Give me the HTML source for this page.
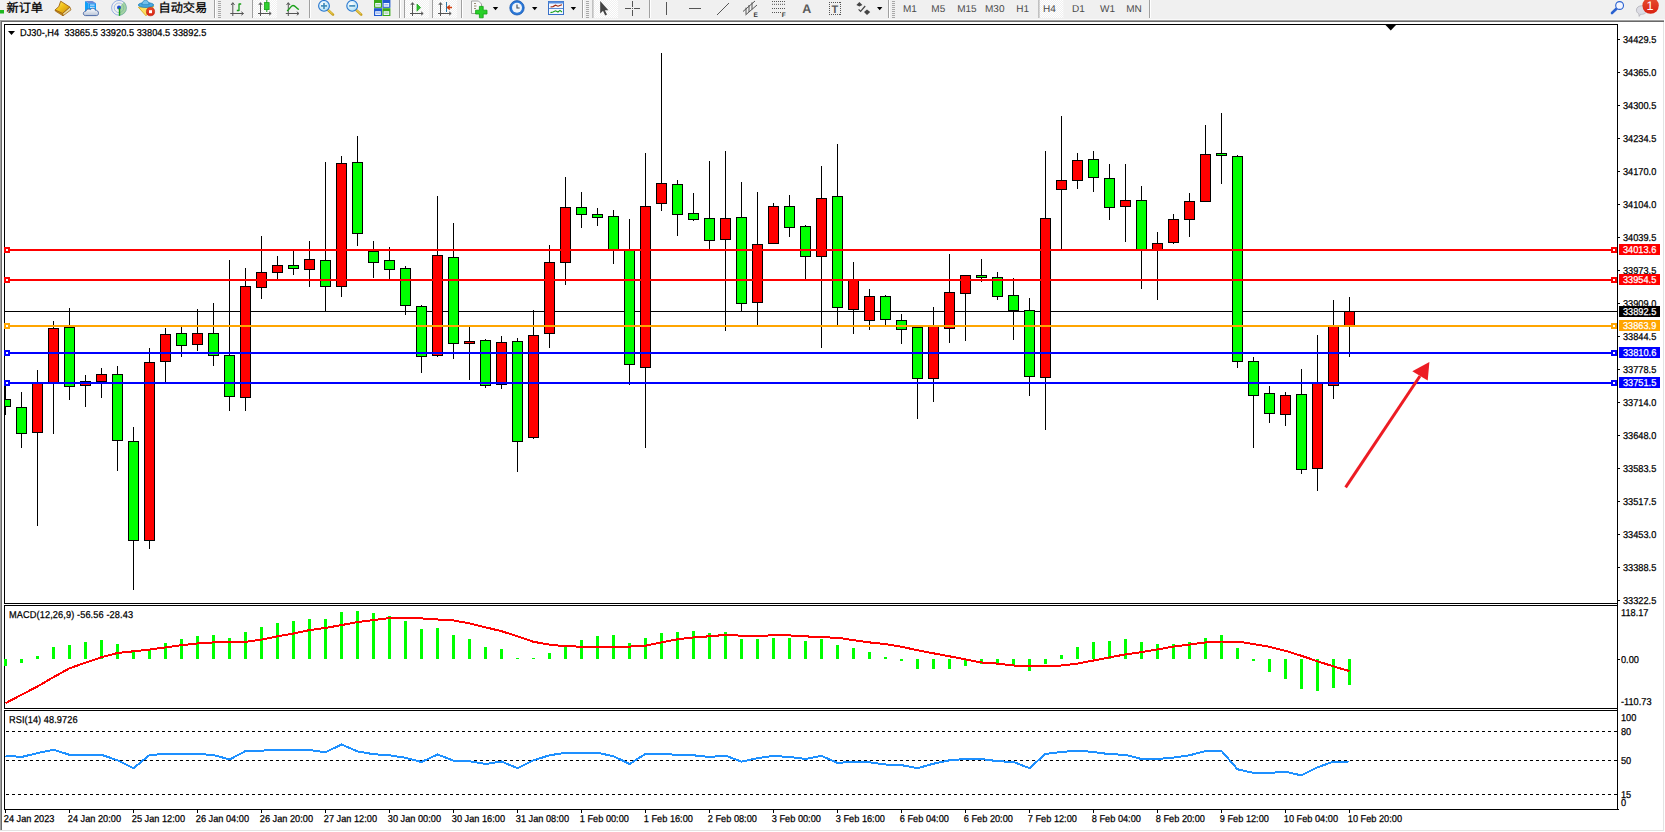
<!DOCTYPE html><html><head><meta charset="utf-8"><title>DJ30-,H4</title>
<style>html,body{margin:0;padding:0;background:#fff;overflow:hidden}body{width:1665px;height:832px;position:relative;font-family:"Liberation Sans","Noto Sans CJK SC",sans-serif}svg{position:absolute;left:0;top:0;display:block}svg text{font-family:"Liberation Sans","Noto Sans CJK SC",sans-serif;text-rendering:geometricPrecision}</style></head><body>
<svg width="1665" height="832" viewBox="0 0 1665 832">
<defs><clipPath id="cm"><rect x="5" y="25" width="1612" height="578"/></clipPath>
<linearGradient id="tbb" x1="0" y1="0" x2="0" y2="1"><stop offset="0" stop-color="#e3e3e3"/><stop offset="0.5" stop-color="#a0a0a0"/><stop offset="1" stop-color="#696969"/></linearGradient>
</defs>
<rect width="1665" height="832" fill="#fff"/>
<g id="toolbar">
<rect x="0" y="0" width="1665" height="19" fill="#f0f0f0"/><rect x="0" y="19" width="1665" height="1" fill="#fafafa"/><rect x="0" y="20" width="1664" height="1" fill="#a0a0a0"/><rect x="1" y="21" width="1663" height="1" fill="#696969"/>
<rect x="0" y="10" width="4" height="3.5" fill="#1fb81f"/>
<text x="6.5" y="11.6" font-size="12.2" fill="#000" stroke="#000" stroke-width="0.3">新订单</text>
<defs><linearGradient id="gold" x1="0" y1="0" x2="1" y2="1"><stop offset="0" stop-color="#fff27a"/><stop offset="0.45" stop-color="#f2c21a"/><stop offset="1" stop-color="#c88a10"/></linearGradient><linearGradient id="cloud" x1="0" y1="0" x2="0" y2="1"><stop offset="0" stop-color="#ffffff"/><stop offset="1" stop-color="#b8c4d8"/></linearGradient><linearGradient id="blu" x1="0" y1="0" x2="0" y2="1"><stop offset="0" stop-color="#1e90f0"/><stop offset="1" stop-color="#00a8ff"/></linearGradient><radialGradient id="lens" cx="0.4" cy="0.35" r="0.7"><stop offset="0" stop-color="#ffffff"/><stop offset="1" stop-color="#a8dcf4"/></radialGradient><linearGradient id="red" x1="0" y1="0" x2="0" y2="1"><stop offset="0" stop-color="#e85030"/><stop offset="1" stop-color="#d82010"/></linearGradient><pattern id="hatch" width="2" height="2" patternUnits="userSpaceOnUse"><rect width="2" height="2" fill="#f0f0f0"/><rect width="1" height="1" fill="#fff"/><rect x="1" y="1" width="1" height="1" fill="#fff"/></pattern></defs>
<path d="M69.8 7L71 9.8L63 15.8L62.6 13.4Z" fill="#e8dca4" stroke="#a06410" stroke-width="0.8" stroke-linejoin="round"/><path d="M55.1 9.9L62.6 13.4L63 15.8L55.3 11Z" fill="#c8901a" stroke="#a06410" stroke-width="0.8" stroke-linejoin="round"/><path d="M60.7 1.2L69.8 7L62.6 13.4L55.1 9.9L58.8 6.6Z" fill="url(#gold)" stroke="#a06410" stroke-width="0.9" stroke-linejoin="round"/>
<path d="M85 1L88.6 3.2V11H85Z" fill="#10a0f8"/><path d="M88.6 3.2H96V11H88.6Z" fill="url(#blu)"/><path d="M85 1H92.5L96 3.2H88.6Z" fill="#6a8ad8"/><rect x="90" y="4.6" width="4.6" height="1" fill="#e8f4ff"/><rect x="90" y="6.8" width="4.6" height="1" fill="#e8f4ff"/>
<path d="M85.5 15.6C82.6 15.6 82.6 11.4 85.8 11.2C86.3 8.8 89.2 8.4 90.4 9.6C91.6 7.6 95 8 95.4 10.2C99 9.8 99.6 15.6 96.4 15.6Z" fill="url(#cloud)" stroke="#3f5f9f" stroke-width="0.9"/>
<g fill="none" stroke="#6f93dc" stroke-width="1"><circle cx="119" cy="7.8" r="7.4" opacity="0.7"/><circle cx="119" cy="7.8" r="4.8" opacity="0.55"/></g>
<path d="M119 7.8V15.6A7.8 7.8 0 0 0 126.8 7.8A7.8 7.8 0 0 0 124 1.8Z" fill="#6fbf6f" opacity="0.6"/><circle cx="119" cy="7.6" r="2" fill="#2050d0"/><rect x="118.8" y="7.8" width="1.4" height="8" fill="#18a018"/>
<path d="M138.4 7.2L153.7 6.4L146 15.8Z" fill="#fbe060" stroke="#d8a010" stroke-width="0.8" stroke-linejoin="round"/>
<ellipse cx="146" cy="5" rx="7.7" ry="2.4" fill="#4aa8e0" stroke="#1f7fb8" stroke-width="0.8"/><path d="M141.9 4.7C141.9 -1.2 149.1 -1.2 149.1 4.7Z" fill="#74c0ec" stroke="#1f7fb8" stroke-width="0.7"/>
<circle cx="150.5" cy="11.7" r="4.1" fill="url(#red)" stroke="#b81808" stroke-width="0.6"/><rect x="149" y="10.2" width="3" height="3" fill="#fff"/>
<text x="158.5" y="11.6" font-size="12.2" fill="#000" stroke="#000" stroke-width="0.3">自动交易</text>
<rect x="214" y="0" width="1" height="18" fill="#a0a0a0"/><rect x="215" y="0" width="1" height="18" fill="#fff"/>
<rect x="218" y="1" width="3" height="1" fill="#a8a8a8"/>
<rect x="218" y="3" width="3" height="1" fill="#a8a8a8"/>
<rect x="218" y="5" width="3" height="1" fill="#a8a8a8"/>
<rect x="218" y="7" width="3" height="1" fill="#a8a8a8"/>
<rect x="218" y="9" width="3" height="1" fill="#a8a8a8"/>
<rect x="218" y="11" width="3" height="1" fill="#a8a8a8"/>
<rect x="218" y="13" width="3" height="1" fill="#a8a8a8"/>
<rect x="218" y="15" width="3" height="1" fill="#a8a8a8"/>
<rect x="218" y="17" width="3" height="1" fill="#a8a8a8"/>
<g stroke="#555" stroke-width="1" fill="none"><path d="M232.8 3V16M230.3 13.5H243.3"/><path d="M231.10000000000002 5L232.8 2.6L234.5 5M241.3 11.8L243.5 13.5L241.3 15.2"/></g>
<path d="M239 3.5V11M239 4H241.2M239 10.5H236.8" stroke="#18a018" stroke-width="1.3" fill="none"/>
<rect x="252" y="0" width="25" height="18" fill="url(#hatch)"/><rect x="252" y="0" width="1" height="18" fill="#a0a0a0"/>
<g stroke="#555" stroke-width="1" fill="none"><path d="M260.5 3V16M258 13.5H271"/><path d="M258.8 5L260.5 2.6L262.2 5M269 11.8L271.2 13.5L269 15.2"/></g>
<rect x="266.3" y="0" width="1" height="12" fill="#18a018"/><rect x="264.5" y="2.6" width="4.6" height="7" fill="#30d030" stroke="#18a018" stroke-width="0.8"/>
<g stroke="#555" stroke-width="1" fill="none"><path d="M288.3 3V16M285.8 13.5H298.8"/><path d="M286.6 5L288.3 2.6L290.0 5M296.8 11.8L299.0 13.5L296.8 15.2"/></g>
<path d="M287 11C290 9.5 290.5 5.5 293 5.5C295.5 5.5 296.5 8.5 299 9.5" stroke="#18a018" stroke-width="1.3" fill="none"/>
<rect x="309" y="0" width="1" height="18" fill="#a0a0a0"/><rect x="310" y="0" width="1" height="18" fill="#fff"/>
<path d="M327.6 9.6L333 14.6" stroke="#c8a020" stroke-width="2.6" stroke-linecap="round"/><path d="M327.6 9.4L332.6 14" stroke="#f4dc60" stroke-width="1"/>
<circle cx="324" cy="5.9" r="5.4" fill="url(#lens)" stroke="#2a78d0" stroke-width="1.1"/>
<path d="M321 5.9H327" stroke="#3a88b8" stroke-width="1.6"/>
<path d="M324 2.9V8.9" stroke="#3a88b8" stroke-width="1.6"/>
<path d="M355.8 9.6L361.2 14.6" stroke="#c8a020" stroke-width="2.6" stroke-linecap="round"/><path d="M355.8 9.4L360.8 14" stroke="#f4dc60" stroke-width="1"/>
<circle cx="352.2" cy="5.9" r="5.4" fill="url(#lens)" stroke="#2a78d0" stroke-width="1.1"/>
<path d="M349.2 5.9H355.2" stroke="#3a88b8" stroke-width="1.6"/>
<rect x="374" y="0" width="8" height="7.8" fill="#38a818"/><rect x="375.2" y="3" width="5.6" height="3.8" fill="#eef4ff"/><rect x="376" y="4.4" width="4" height="0.9" fill="#38a818" opacity="0.6"/>
<rect x="382.4" y="0" width="8" height="7.8" fill="#2058d0"/><rect x="383.59999999999997" y="3" width="5.6" height="3.8" fill="#eef4ff"/><rect x="384.4" y="4.4" width="4" height="0.9" fill="#2058d0" opacity="0.6"/>
<rect x="374" y="8.2" width="8" height="7.8" fill="#2058d0"/><rect x="375.2" y="11.2" width="5.6" height="3.8" fill="#eef4ff"/><rect x="376" y="12.6" width="4" height="0.9" fill="#2058d0" opacity="0.6"/>
<rect x="382.4" y="8.2" width="8" height="7.8" fill="#38a818"/><rect x="383.59999999999997" y="11.2" width="5.6" height="3.8" fill="#eef4ff"/><rect x="384.4" y="12.6" width="4" height="0.9" fill="#38a818" opacity="0.6"/>
<rect x="399" y="0" width="1" height="18" fill="#a0a0a0"/><rect x="400" y="0" width="1" height="18" fill="#fff"/>
<rect x="404" y="0" width="25" height="18" fill="url(#hatch)"/><rect x="404" y="0" width="1" height="18" fill="#a0a0a0"/>
<g stroke="#555" stroke-width="1" fill="none"><path d="M412.5 3V16M410 13.5H423"/><path d="M410.8 5L412.5 2.6L414.2 5M421 11.8L423.2 13.5L421 15.2"/></g>
<path d="M417 4L420.6 7.6L417 11.2Z" fill="#30c030" stroke="#18a018" stroke-width="0.7"/>
<rect x="432" y="0" width="25" height="18" fill="url(#hatch)"/><rect x="432" y="0" width="1" height="18" fill="#a0a0a0"/>
<g stroke="#555" stroke-width="1" fill="none"><path d="M440.5 3V16M438 13.5H451"/><path d="M438.8 5L440.5 2.6L442.2 5M449 11.8L451.2 13.5L449 15.2"/></g>
<rect x="446" y="2" width="1" height="10" fill="#2878a8"/><path d="M452 7.5H448M449.8 5.4L447.4 7.5L449.8 9.6" stroke="#d04010" stroke-width="1.3" fill="none"/>
<rect x="461" y="0" width="1" height="18" fill="#a0a0a0"/><rect x="462" y="0" width="1" height="18" fill="#fff"/>
<path d="M471.5 1H478.5L481.5 4V13.5H471.5Z" fill="#f8f8f8" stroke="#9a9a9a" stroke-width="0.9"/><path d="M474 3.5H476M474 6H476.5M474 8.5H476" stroke="#807050" stroke-width="0.8"/>
<path d="M479.4 6.4H483.2V10.2H487V14H483.2V17.8H479.4V14H475.6V10.2H479.4Z" fill="#28d028" stroke="#10a010" stroke-width="0.8"/>
<path d="M492.8 7H498.2L495.5 10.2Z" fill="#000"/>
<circle cx="517" cy="7.8" r="7.2" fill="#2a78d8" stroke="#1858b0" stroke-width="0.8"/><circle cx="517" cy="7.8" r="5" fill="#eef4fa"/><path d="M517 4.4V8H519.6" stroke="#404850" stroke-width="1.1" fill="none"/>
<path d="M532 7H537.4L534.7 10.2Z" fill="#000"/>
<rect x="548.5" y="1.5" width="15" height="13" fill="#f4f8ff" stroke="#3870c8" stroke-width="1"/><rect x="548.5" y="1.5" width="15" height="2" fill="#5890e0"/><path d="M549 8.5H563" stroke="#3870c8" stroke-width="0.8"/><path d="M550.5 7L553 6.6L555.5 5.2L558 6.2L560.5 5.2L562 4.8" stroke="#a02810" stroke-width="1.1" fill="none"/><path d="M550.5 12.6L553 12L555.5 10.8L558 12L560 10.4L562 12" stroke="#18a018" stroke-width="1.1" fill="none"/>
<path d="M570.7 7H576.1L573.4000000000001 10.2Z" fill="#000"/>
<rect x="582" y="0" width="1" height="18" fill="#a0a0a0"/><rect x="583" y="0" width="1" height="18" fill="#fff"/>
<rect x="586" y="1" width="3" height="1" fill="#a8a8a8"/>
<rect x="586" y="3" width="3" height="1" fill="#a8a8a8"/>
<rect x="586" y="5" width="3" height="1" fill="#a8a8a8"/>
<rect x="586" y="7" width="3" height="1" fill="#a8a8a8"/>
<rect x="586" y="9" width="3" height="1" fill="#a8a8a8"/>
<rect x="586" y="11" width="3" height="1" fill="#a8a8a8"/>
<rect x="586" y="13" width="3" height="1" fill="#a8a8a8"/>
<rect x="586" y="15" width="3" height="1" fill="#a8a8a8"/>
<rect x="586" y="17" width="3" height="1" fill="#a8a8a8"/>
<rect x="592.4" y="0" width="25.6" height="18" fill="url(#hatch)"/><rect x="592.4" y="0" width="1" height="18" fill="#a0a0a0"/>
<path d="M600.2 1V13.6L603 10.8L605.2 15.4L607 14.6L604.8 10.2H608.4Z" fill="#444"/>
<path d="M632.5 1V7M632.5 10V16M625 8.5H631M634 8.5H640" stroke="#555" stroke-width="1"/><rect x="632" y="8" width="1" height="1" fill="#555"/>
<rect x="649" y="0" width="1" height="18" fill="#a0a0a0"/><rect x="650" y="0" width="1" height="18" fill="#fff"/>
<path d="M666.5 2V15" stroke="#555" stroke-width="1"/><path d="M689 8.5H701" stroke="#555" stroke-width="1"/><path d="M717 15L729 3" stroke="#555" stroke-width="1"/>
<path d="M743 11.5L755 1M745.5 15L757 5M746 7.6V14.4M749 5V12M752 2.4V9.4" stroke="#555" stroke-width="1" fill="none"/><text x="753.4" y="17" font-size="6.5" font-weight="bold" fill="#333">E</text>
<path d="M772 1.5H785" stroke="#555" stroke-width="1" stroke-dasharray="1 1"/>
<path d="M772 4.3H785" stroke="#555" stroke-width="1" stroke-dasharray="1 1"/>
<path d="M772 8.5H785" stroke="#555" stroke-width="1" stroke-dasharray="1 1"/>
<path d="M772 12.5H781" stroke="#555" stroke-width="1" stroke-dasharray="1 1"/>
<text x="781.8" y="17" font-size="6.5" font-weight="bold" fill="#333">F</text>
<text x="802.2" y="13" font-size="12.5" font-weight="bold" fill="#5a5a5a">A</text>
<g stroke="#555" stroke-width="1" stroke-dasharray="1 1" shape-rendering="crispEdges"><path d="M829 2.5H841M829 14.5H841M829.5 2V15M840.5 2V15"/></g><text x="831.4" y="12.6" font-size="11" font-weight="bold" fill="#5a5a5a">T</text>
<path d="M856.4 5L859.4 2L862.4 5L859.4 6.6Z" fill="#444"/><path d="M864 12L867 9.6L870.2 12L867 15Z" fill="#444"/><path d="M858.6 9.4L860.6 11.4L865.2 6" stroke="#444" stroke-width="1.2" fill="none"/>
<path d="M877 7H882.4L879.7 10.2Z" fill="#000"/>
<rect x="888" y="0" width="1" height="18" fill="#a0a0a0"/><rect x="889" y="0" width="1" height="18" fill="#fff"/>
<rect x="892" y="1" width="3" height="1" fill="#a8a8a8"/>
<rect x="892" y="3" width="3" height="1" fill="#a8a8a8"/>
<rect x="892" y="5" width="3" height="1" fill="#a8a8a8"/>
<rect x="892" y="7" width="3" height="1" fill="#a8a8a8"/>
<rect x="892" y="9" width="3" height="1" fill="#a8a8a8"/>
<rect x="892" y="11" width="3" height="1" fill="#a8a8a8"/>
<rect x="892" y="13" width="3" height="1" fill="#a8a8a8"/>
<rect x="892" y="15" width="3" height="1" fill="#a8a8a8"/>
<rect x="892" y="17" width="3" height="1" fill="#a8a8a8"/>
<g font-size="10" fill="#4a4a4a">
<text x="903" y="12">M1</text>
<text x="931.3" y="12">M5</text>
<text x="957.2" y="12">M15</text>
<text x="985" y="12">M30</text>
<text x="1016.2" y="12">H1</text>
<text x="1072" y="12">D1</text>
<text x="1100" y="12">W1</text>
<text x="1126.2" y="12">MN</text>
</g>
<rect x="1038.4" y="0" width="25" height="18" fill="url(#hatch)"/><rect x="1038.4" y="0" width="1" height="18" fill="#a0a0a0"/>
<text x="1043" y="12" font-size="10" fill="#4a4a4a">H4</text>
<rect x="1149" y="0" width="1" height="18" fill="#a0a0a0"/><rect x="1150" y="0" width="1" height="18" fill="#fff"/>
<path d="M1616.4 8.8L1612 13" stroke="#2a62d0" stroke-width="2.6" stroke-linecap="round"/><circle cx="1619.6" cy="5.5" r="3.9" fill="#f4f6ff" stroke="#2a62d0" stroke-width="1.1"/>
<path d="M1636.4 10.1C1636.4 4.4 1647 4.4 1647 10.1C1647 13.4 1643 14.6 1640.6 14.2L1639.2 16.4L1638.8 13.6C1637.2 13 1636.4 11.6 1636.4 10.1Z" fill="#dcdce4" stroke="#b0b0b8" stroke-width="0.8"/>
<circle cx="1650.6" cy="5.6" r="8.2" fill="url(#red)"/><text x="1646.6" y="10.2" font-size="12.5" fill="#fff">1</text>
</g>
<g shape-rendering="crispEdges">
<rect x="0" y="20" width="1" height="811" fill="#a0a0a0"/><rect x="1" y="21" width="1" height="809" fill="#696969"/>
<rect x="0" y="830" width="1664" height="1" fill="#e3e3e3"/><rect x="1663" y="22" width="1" height="809" fill="#e3e3e3"/>
<rect x="4" y="24" width="1614" height="1" fill="#000"/>
<rect x="4" y="603" width="1614" height="1" fill="#000"/>
<rect x="4" y="605" width="1614" height="1" fill="#000"/>
<rect x="4" y="708" width="1614" height="1" fill="#000"/>
<rect x="4" y="710" width="1614" height="1" fill="#000"/>
<rect x="4" y="809" width="1615" height="1" fill="#000"/>
<rect x="4" y="24" width="1" height="580" fill="#000"/>
<rect x="4" y="605" width="1" height="104" fill="#000"/>
<rect x="4" y="710" width="1" height="100" fill="#000"/>
<rect x="1617" y="24" width="1" height="786" fill="#000"/>
<rect x="5" y="311" width="1612" height="1" fill="#000"/>
</g>
<g shape-rendering="crispEdges" clip-path="url(#cm)">
<rect x="5" y="385" width="1" height="30" fill="#000"/>
<rect x="0" y="399" width="11" height="8" fill="#000"/><rect x="1" y="400" width="9" height="6" fill="#00ff00"/>
<rect x="21" y="392" width="1" height="56" fill="#000"/>
<rect x="16" y="407" width="11" height="27" fill="#000"/><rect x="17" y="408" width="9" height="25" fill="#00ff00"/>
<rect x="37" y="370" width="1" height="156" fill="#000"/>
<rect x="32" y="383" width="11" height="50" fill="#000"/><rect x="33" y="384" width="9" height="48" fill="#ff0000"/>
<rect x="53" y="321" width="1" height="113" fill="#000"/>
<rect x="48" y="328" width="11" height="56" fill="#000"/><rect x="49" y="329" width="9" height="54" fill="#ff0000"/>
<rect x="69" y="308" width="1" height="92" fill="#000"/>
<rect x="64" y="327" width="11" height="60" fill="#000"/><rect x="65" y="328" width="9" height="58" fill="#00ff00"/>
<rect x="85" y="375" width="1" height="32" fill="#000"/>
<rect x="80" y="381" width="11" height="5" fill="#000"/><rect x="81" y="382" width="9" height="3" fill="#ff0000"/>
<rect x="101" y="368" width="1" height="30" fill="#000"/>
<rect x="96" y="374" width="11" height="8" fill="#000"/><rect x="97" y="375" width="9" height="6" fill="#ff0000"/>
<rect x="117" y="366" width="1" height="105" fill="#000"/>
<rect x="112" y="374" width="11" height="67" fill="#000"/><rect x="113" y="375" width="9" height="65" fill="#00ff00"/>
<rect x="133" y="427" width="1" height="163" fill="#000"/>
<rect x="128" y="441" width="11" height="100" fill="#000"/><rect x="129" y="442" width="9" height="98" fill="#00ff00"/>
<rect x="149" y="348" width="1" height="201" fill="#000"/>
<rect x="144" y="362" width="11" height="179" fill="#000"/><rect x="145" y="363" width="9" height="177" fill="#ff0000"/>
<rect x="165" y="328" width="1" height="54" fill="#000"/>
<rect x="160" y="334" width="11" height="28" fill="#000"/><rect x="161" y="335" width="9" height="26" fill="#ff0000"/>
<rect x="181" y="327" width="1" height="30" fill="#000"/>
<rect x="176" y="333" width="11" height="13" fill="#000"/><rect x="177" y="334" width="9" height="11" fill="#00ff00"/>
<rect x="197" y="309" width="1" height="42" fill="#000"/>
<rect x="192" y="333" width="11" height="12" fill="#000"/><rect x="193" y="334" width="9" height="10" fill="#ff0000"/>
<rect x="213" y="303" width="1" height="63" fill="#000"/>
<rect x="208" y="333" width="11" height="23" fill="#000"/><rect x="209" y="334" width="9" height="21" fill="#00ff00"/>
<rect x="229" y="260" width="1" height="151" fill="#000"/>
<rect x="224" y="355" width="11" height="42" fill="#000"/><rect x="225" y="356" width="9" height="40" fill="#00ff00"/>
<rect x="245" y="268" width="1" height="143" fill="#000"/>
<rect x="240" y="286" width="11" height="112" fill="#000"/><rect x="241" y="287" width="9" height="110" fill="#ff0000"/>
<rect x="261" y="236" width="1" height="63" fill="#000"/>
<rect x="256" y="272" width="11" height="16" fill="#000"/><rect x="257" y="273" width="9" height="14" fill="#ff0000"/>
<rect x="277" y="256" width="1" height="23" fill="#000"/>
<rect x="272" y="265" width="11" height="8" fill="#000"/><rect x="273" y="266" width="9" height="6" fill="#ff0000"/>
<rect x="293" y="251" width="1" height="24" fill="#000"/>
<rect x="288" y="265" width="11" height="4" fill="#000"/><rect x="289" y="266" width="9" height="2" fill="#00ff00"/>
<rect x="309" y="241" width="1" height="46" fill="#000"/>
<rect x="304" y="259" width="11" height="11" fill="#000"/><rect x="305" y="260" width="9" height="9" fill="#ff0000"/>
<rect x="325" y="162" width="1" height="149" fill="#000"/>
<rect x="320" y="260" width="11" height="27" fill="#000"/><rect x="321" y="261" width="9" height="25" fill="#00ff00"/>
<rect x="341" y="156" width="1" height="141" fill="#000"/>
<rect x="336" y="163" width="11" height="124" fill="#000"/><rect x="337" y="164" width="9" height="122" fill="#ff0000"/>
<rect x="357" y="136" width="1" height="110" fill="#000"/>
<rect x="352" y="162" width="11" height="72" fill="#000"/><rect x="353" y="163" width="9" height="70" fill="#00ff00"/>
<rect x="373" y="241" width="1" height="37" fill="#000"/>
<rect x="368" y="251" width="11" height="12" fill="#000"/><rect x="369" y="252" width="9" height="10" fill="#00ff00"/>
<rect x="389" y="247" width="1" height="32" fill="#000"/>
<rect x="384" y="260" width="11" height="10" fill="#000"/><rect x="385" y="261" width="9" height="8" fill="#00ff00"/>
<rect x="405" y="266" width="1" height="49" fill="#000"/>
<rect x="400" y="268" width="11" height="38" fill="#000"/><rect x="401" y="269" width="9" height="36" fill="#00ff00"/>
<rect x="421" y="305" width="1" height="68" fill="#000"/>
<rect x="416" y="306" width="11" height="51" fill="#000"/><rect x="417" y="307" width="9" height="49" fill="#00ff00"/>
<rect x="437" y="196" width="1" height="161" fill="#000"/>
<rect x="432" y="255" width="11" height="101" fill="#000"/><rect x="433" y="256" width="9" height="99" fill="#ff0000"/>
<rect x="453" y="223" width="1" height="136" fill="#000"/>
<rect x="448" y="257" width="11" height="87" fill="#000"/><rect x="449" y="258" width="9" height="85" fill="#00ff00"/>
<rect x="469" y="327" width="1" height="53" fill="#000"/>
<rect x="464" y="341" width="11" height="3" fill="#000"/><rect x="465" y="342" width="9" height="1" fill="#ff0000"/>
<rect x="485" y="339" width="1" height="49" fill="#000"/>
<rect x="480" y="340" width="11" height="46" fill="#000"/><rect x="481" y="341" width="9" height="44" fill="#00ff00"/>
<rect x="501" y="336" width="1" height="53" fill="#000"/>
<rect x="496" y="342" width="11" height="43" fill="#000"/><rect x="497" y="343" width="9" height="41" fill="#ff0000"/>
<rect x="517" y="338" width="1" height="134" fill="#000"/>
<rect x="512" y="341" width="11" height="101" fill="#000"/><rect x="513" y="342" width="9" height="99" fill="#00ff00"/>
<rect x="533" y="310" width="1" height="129" fill="#000"/>
<rect x="528" y="335" width="11" height="103" fill="#000"/><rect x="529" y="336" width="9" height="101" fill="#ff0000"/>
<rect x="549" y="245" width="1" height="103" fill="#000"/>
<rect x="544" y="262" width="11" height="72" fill="#000"/><rect x="545" y="263" width="9" height="70" fill="#ff0000"/>
<rect x="565" y="177" width="1" height="108" fill="#000"/>
<rect x="560" y="207" width="11" height="56" fill="#000"/><rect x="561" y="208" width="9" height="54" fill="#ff0000"/>
<rect x="581" y="192" width="1" height="36" fill="#000"/>
<rect x="576" y="207" width="11" height="8" fill="#000"/><rect x="577" y="208" width="9" height="6" fill="#00ff00"/>
<rect x="597" y="208" width="1" height="18" fill="#000"/>
<rect x="592" y="214" width="11" height="4" fill="#000"/><rect x="593" y="215" width="9" height="2" fill="#00ff00"/>
<rect x="613" y="210" width="1" height="54" fill="#000"/>
<rect x="608" y="216" width="11" height="34" fill="#000"/><rect x="609" y="217" width="9" height="32" fill="#00ff00"/>
<rect x="629" y="219" width="1" height="166" fill="#000"/>
<rect x="624" y="250" width="11" height="115" fill="#000"/><rect x="625" y="251" width="9" height="113" fill="#00ff00"/>
<rect x="645" y="153" width="1" height="295" fill="#000"/>
<rect x="640" y="206" width="11" height="162" fill="#000"/><rect x="641" y="207" width="9" height="160" fill="#ff0000"/>
<rect x="661" y="53" width="1" height="158" fill="#000"/>
<rect x="656" y="183" width="11" height="21" fill="#000"/><rect x="657" y="184" width="9" height="19" fill="#ff0000"/>
<rect x="677" y="180" width="1" height="56" fill="#000"/>
<rect x="672" y="184" width="11" height="31" fill="#000"/><rect x="673" y="185" width="9" height="29" fill="#00ff00"/>
<rect x="693" y="193" width="1" height="28" fill="#000"/>
<rect x="688" y="213" width="11" height="7" fill="#000"/><rect x="689" y="214" width="9" height="5" fill="#00ff00"/>
<rect x="709" y="161" width="1" height="88" fill="#000"/>
<rect x="704" y="218" width="11" height="23" fill="#000"/><rect x="705" y="219" width="9" height="21" fill="#00ff00"/>
<rect x="725" y="151" width="1" height="180" fill="#000"/>
<rect x="720" y="218" width="11" height="22" fill="#000"/><rect x="721" y="219" width="9" height="20" fill="#ff0000"/>
<rect x="741" y="182" width="1" height="129" fill="#000"/>
<rect x="736" y="217" width="11" height="87" fill="#000"/><rect x="737" y="218" width="9" height="85" fill="#00ff00"/>
<rect x="757" y="192" width="1" height="133" fill="#000"/>
<rect x="752" y="244" width="11" height="59" fill="#000"/><rect x="753" y="245" width="9" height="57" fill="#ff0000"/>
<rect x="773" y="203" width="1" height="41" fill="#000"/>
<rect x="768" y="206" width="11" height="38" fill="#000"/><rect x="769" y="207" width="9" height="36" fill="#ff0000"/>
<rect x="789" y="195" width="1" height="42" fill="#000"/>
<rect x="784" y="206" width="11" height="22" fill="#000"/><rect x="785" y="207" width="9" height="20" fill="#00ff00"/>
<rect x="805" y="225" width="1" height="54" fill="#000"/>
<rect x="800" y="226" width="11" height="31" fill="#000"/><rect x="801" y="227" width="9" height="29" fill="#00ff00"/>
<rect x="821" y="166" width="1" height="182" fill="#000"/>
<rect x="816" y="198" width="11" height="59" fill="#000"/><rect x="817" y="199" width="9" height="57" fill="#ff0000"/>
<rect x="837" y="144" width="1" height="181" fill="#000"/>
<rect x="832" y="196" width="11" height="112" fill="#000"/><rect x="833" y="197" width="9" height="110" fill="#00ff00"/>
<rect x="853" y="262" width="1" height="72" fill="#000"/>
<rect x="848" y="279" width="11" height="31" fill="#000"/><rect x="849" y="280" width="9" height="29" fill="#ff0000"/>
<rect x="869" y="289" width="1" height="41" fill="#000"/>
<rect x="864" y="296" width="11" height="25" fill="#000"/><rect x="865" y="297" width="9" height="23" fill="#ff0000"/>
<rect x="885" y="295" width="1" height="30" fill="#000"/>
<rect x="880" y="296" width="11" height="24" fill="#000"/><rect x="881" y="297" width="9" height="22" fill="#00ff00"/>
<rect x="901" y="314" width="1" height="30" fill="#000"/>
<rect x="896" y="320" width="11" height="10" fill="#000"/><rect x="897" y="321" width="9" height="8" fill="#00ff00"/>
<rect x="917" y="327" width="1" height="92" fill="#000"/>
<rect x="912" y="327" width="11" height="52" fill="#000"/><rect x="913" y="328" width="9" height="50" fill="#00ff00"/>
<rect x="933" y="307" width="1" height="95" fill="#000"/>
<rect x="928" y="326" width="11" height="53" fill="#000"/><rect x="929" y="327" width="9" height="51" fill="#ff0000"/>
<rect x="949" y="254" width="1" height="89" fill="#000"/>
<rect x="944" y="292" width="11" height="37" fill="#000"/><rect x="945" y="293" width="9" height="35" fill="#ff0000"/>
<rect x="965" y="275" width="1" height="66" fill="#000"/>
<rect x="960" y="275" width="11" height="19" fill="#000"/><rect x="961" y="276" width="9" height="17" fill="#ff0000"/>
<rect x="981" y="259" width="1" height="23" fill="#000"/>
<rect x="976" y="275" width="11" height="3" fill="#000"/><rect x="977" y="276" width="9" height="1" fill="#00ff00"/>
<rect x="997" y="272" width="1" height="28" fill="#000"/>
<rect x="992" y="277" width="11" height="20" fill="#000"/><rect x="993" y="278" width="9" height="18" fill="#00ff00"/>
<rect x="1013" y="278" width="1" height="62" fill="#000"/>
<rect x="1008" y="295" width="11" height="16" fill="#000"/><rect x="1009" y="296" width="9" height="14" fill="#00ff00"/>
<rect x="1029" y="298" width="1" height="98" fill="#000"/>
<rect x="1024" y="310" width="11" height="67" fill="#000"/><rect x="1025" y="311" width="9" height="65" fill="#00ff00"/>
<rect x="1045" y="151" width="1" height="279" fill="#000"/>
<rect x="1040" y="218" width="11" height="160" fill="#000"/><rect x="1041" y="219" width="9" height="158" fill="#ff0000"/>
<rect x="1061" y="116" width="1" height="133" fill="#000"/>
<rect x="1056" y="180" width="11" height="10" fill="#000"/><rect x="1057" y="181" width="9" height="8" fill="#ff0000"/>
<rect x="1077" y="153" width="1" height="36" fill="#000"/>
<rect x="1072" y="160" width="11" height="21" fill="#000"/><rect x="1073" y="161" width="9" height="19" fill="#ff0000"/>
<rect x="1093" y="151" width="1" height="41" fill="#000"/>
<rect x="1088" y="159" width="11" height="19" fill="#000"/><rect x="1089" y="160" width="9" height="17" fill="#00ff00"/>
<rect x="1109" y="164" width="1" height="56" fill="#000"/>
<rect x="1104" y="178" width="11" height="30" fill="#000"/><rect x="1105" y="179" width="9" height="28" fill="#00ff00"/>
<rect x="1125" y="164" width="1" height="78" fill="#000"/>
<rect x="1120" y="200" width="11" height="7" fill="#000"/><rect x="1121" y="201" width="9" height="5" fill="#ff0000"/>
<rect x="1141" y="186" width="1" height="103" fill="#000"/>
<rect x="1136" y="200" width="11" height="50" fill="#000"/><rect x="1137" y="201" width="9" height="48" fill="#00ff00"/>
<rect x="1157" y="232" width="1" height="68" fill="#000"/>
<rect x="1152" y="243" width="11" height="8" fill="#000"/><rect x="1153" y="244" width="9" height="6" fill="#ff0000"/>
<rect x="1173" y="214" width="1" height="30" fill="#000"/>
<rect x="1168" y="219" width="11" height="24" fill="#000"/><rect x="1169" y="220" width="9" height="22" fill="#ff0000"/>
<rect x="1189" y="193" width="1" height="44" fill="#000"/>
<rect x="1184" y="201" width="11" height="19" fill="#000"/><rect x="1185" y="202" width="9" height="17" fill="#ff0000"/>
<rect x="1205" y="125" width="1" height="77" fill="#000"/>
<rect x="1200" y="154" width="11" height="48" fill="#000"/><rect x="1201" y="155" width="9" height="46" fill="#ff0000"/>
<rect x="1221" y="113" width="1" height="71" fill="#000"/>
<rect x="1216" y="153" width="11" height="3" fill="#000"/><rect x="1217" y="154" width="9" height="1" fill="#00ff00"/>
<rect x="1237" y="155" width="1" height="213" fill="#000"/>
<rect x="1232" y="156" width="11" height="206" fill="#000"/><rect x="1233" y="157" width="9" height="204" fill="#00ff00"/>
<rect x="1253" y="357" width="1" height="91" fill="#000"/>
<rect x="1248" y="361" width="11" height="35" fill="#000"/><rect x="1249" y="362" width="9" height="33" fill="#00ff00"/>
<rect x="1269" y="386" width="1" height="37" fill="#000"/>
<rect x="1264" y="393" width="11" height="21" fill="#000"/><rect x="1265" y="394" width="9" height="19" fill="#00ff00"/>
<rect x="1285" y="392" width="1" height="34" fill="#000"/>
<rect x="1280" y="395" width="11" height="20" fill="#000"/><rect x="1281" y="396" width="9" height="18" fill="#ff0000"/>
<rect x="1301" y="369" width="1" height="105" fill="#000"/>
<rect x="1296" y="394" width="11" height="76" fill="#000"/><rect x="1297" y="395" width="9" height="74" fill="#00ff00"/>
<rect x="1317" y="335" width="1" height="156" fill="#000"/>
<rect x="1312" y="383" width="11" height="86" fill="#000"/><rect x="1313" y="384" width="9" height="84" fill="#ff0000"/>
<rect x="1333" y="300" width="1" height="99" fill="#000"/>
<rect x="1328" y="326" width="11" height="60" fill="#000"/><rect x="1329" y="327" width="9" height="58" fill="#ff0000"/>
<rect x="1349" y="297" width="1" height="60" fill="#000"/>
<rect x="1344" y="311" width="11" height="15" fill="#000"/><rect x="1345" y="312" width="9" height="13" fill="#ff0000"/>
</g>
<g shape-rendering="crispEdges">
<rect x="5" y="249" width="1612" height="2" fill="#ff0000"/>
<rect x="4" y="247" width="6" height="6" fill="#ff0000"/><rect x="6" y="249" width="2" height="2" fill="#fff"/>
<rect x="1611" y="247" width="6" height="6" fill="#ff0000"/><rect x="1613" y="249" width="2" height="2" fill="#fff"/>
<rect x="5" y="279" width="1612" height="2" fill="#ff0000"/>
<rect x="4" y="277" width="6" height="6" fill="#ff0000"/><rect x="6" y="279" width="2" height="2" fill="#fff"/>
<rect x="1611" y="277" width="6" height="6" fill="#ff0000"/><rect x="1613" y="279" width="2" height="2" fill="#fff"/>
<rect x="5" y="325" width="1612" height="2" fill="#ffa500"/>
<rect x="4" y="323" width="6" height="6" fill="#ffa500"/><rect x="6" y="325" width="2" height="2" fill="#fff"/>
<rect x="1611" y="323" width="6" height="6" fill="#ffa500"/><rect x="1613" y="325" width="2" height="2" fill="#fff"/>
<rect x="5" y="352" width="1612" height="2" fill="#0000ff"/>
<rect x="4" y="350" width="6" height="6" fill="#0000ff"/><rect x="6" y="352" width="2" height="2" fill="#fff"/>
<rect x="1611" y="350" width="6" height="6" fill="#0000ff"/><rect x="1613" y="352" width="2" height="2" fill="#fff"/>
<rect x="5" y="382" width="1612" height="2" fill="#0000ff"/>
<rect x="4" y="380" width="6" height="6" fill="#0000ff"/><rect x="6" y="382" width="2" height="2" fill="#fff"/>
<rect x="1611" y="380" width="6" height="6" fill="#0000ff"/><rect x="1613" y="382" width="2" height="2" fill="#fff"/>
</g>
<g shape-rendering="crispEdges">
<rect x="1618" y="39" width="2" height="1" fill="#000"/>
<rect x="1618" y="72" width="2" height="1" fill="#000"/>
<rect x="1618" y="105" width="2" height="1" fill="#000"/>
<rect x="1618" y="138" width="2" height="1" fill="#000"/>
<rect x="1618" y="171" width="2" height="1" fill="#000"/>
<rect x="1618" y="204" width="2" height="1" fill="#000"/>
<rect x="1618" y="237" width="2" height="1" fill="#000"/>
<rect x="1618" y="270" width="2" height="1" fill="#000"/>
<rect x="1618" y="303" width="2" height="1" fill="#000"/>
<rect x="1618" y="336" width="2" height="1" fill="#000"/>
<rect x="1618" y="369" width="2" height="1" fill="#000"/>
<rect x="1618" y="402" width="2" height="1" fill="#000"/>
<rect x="1618" y="435" width="2" height="1" fill="#000"/>
<rect x="1618" y="468" width="2" height="1" fill="#000"/>
<rect x="1618" y="501" width="2" height="1" fill="#000"/>
<rect x="1618" y="534" width="2" height="1" fill="#000"/>
<rect x="1618" y="567" width="2" height="1" fill="#000"/>
<rect x="1618" y="600" width="2" height="1" fill="#000"/>
<rect x="1618" y="659" width="2" height="1" fill="#000"/>
</g>
<text transform="translate(1623 42.9) scale(0.92 1)" font-size="10" fill="#000" stroke="#000" stroke-width="0.25">34429.5</text>
<text transform="translate(1623 75.9) scale(0.92 1)" font-size="10" fill="#000" stroke="#000" stroke-width="0.25">34365.0</text>
<text transform="translate(1623 108.9) scale(0.92 1)" font-size="10" fill="#000" stroke="#000" stroke-width="0.25">34300.5</text>
<text transform="translate(1623 141.9) scale(0.92 1)" font-size="10" fill="#000" stroke="#000" stroke-width="0.25">34234.5</text>
<text transform="translate(1623 174.9) scale(0.92 1)" font-size="10" fill="#000" stroke="#000" stroke-width="0.25">34170.0</text>
<text transform="translate(1623 207.9) scale(0.92 1)" font-size="10" fill="#000" stroke="#000" stroke-width="0.25">34104.0</text>
<text transform="translate(1623 240.9) scale(0.92 1)" font-size="10" fill="#000" stroke="#000" stroke-width="0.25">34039.5</text>
<text transform="translate(1623 273.9) scale(0.92 1)" font-size="10" fill="#000" stroke="#000" stroke-width="0.25">33973.5</text>
<text transform="translate(1623 306.9) scale(0.92 1)" font-size="10" fill="#000" stroke="#000" stroke-width="0.25">33909.0</text>
<text transform="translate(1623 339.9) scale(0.92 1)" font-size="10" fill="#000" stroke="#000" stroke-width="0.25">33844.5</text>
<text transform="translate(1623 372.9) scale(0.92 1)" font-size="10" fill="#000" stroke="#000" stroke-width="0.25">33778.5</text>
<text transform="translate(1623 405.9) scale(0.92 1)" font-size="10" fill="#000" stroke="#000" stroke-width="0.25">33714.0</text>
<text transform="translate(1623 438.9) scale(0.92 1)" font-size="10" fill="#000" stroke="#000" stroke-width="0.25">33648.0</text>
<text transform="translate(1623 471.9) scale(0.92 1)" font-size="10" fill="#000" stroke="#000" stroke-width="0.25">33583.5</text>
<text transform="translate(1623 504.9) scale(0.92 1)" font-size="10" fill="#000" stroke="#000" stroke-width="0.25">33517.5</text>
<text transform="translate(1623 537.9) scale(0.92 1)" font-size="10" fill="#000" stroke="#000" stroke-width="0.25">33453.0</text>
<text transform="translate(1623 570.9) scale(0.92 1)" font-size="10" fill="#000" stroke="#000" stroke-width="0.25">33388.5</text>
<text transform="translate(1623 603.9) scale(0.92 1)" font-size="10" fill="#000" stroke="#000" stroke-width="0.25">33322.5</text>
<g shape-rendering="crispEdges">
<rect x="1619" y="244" width="41" height="11" fill="#ff0000"/>
<rect x="1619" y="274" width="41" height="11" fill="#ff0000"/>
<rect x="1619" y="320" width="41" height="11" fill="#ffa500"/>
<rect x="1619" y="347" width="41" height="11" fill="#0000ff"/>
<rect x="1619" y="377" width="41" height="11" fill="#0000ff"/>
<rect x="1619" y="306" width="41" height="11" fill="#000"/>
</g>
<text transform="translate(1623 252.9) scale(0.92 1)" font-size="10" fill="#fff" stroke="#fff" stroke-width="0.25">34013.6</text>
<text transform="translate(1623 282.9) scale(0.92 1)" font-size="10" fill="#fff" stroke="#fff" stroke-width="0.25">33954.5</text>
<text transform="translate(1623 328.9) scale(0.92 1)" font-size="10" fill="#fff" stroke="#fff" stroke-width="0.25">33863.9</text>
<text transform="translate(1623 355.9) scale(0.92 1)" font-size="10" fill="#fff" stroke="#fff" stroke-width="0.25">33810.6</text>
<text transform="translate(1623 385.9) scale(0.92 1)" font-size="10" fill="#fff" stroke="#fff" stroke-width="0.25">33751.5</text>
<text transform="translate(1623 314.9) scale(0.92 1)" font-size="10" fill="#fff" stroke="#fff" stroke-width="0.25">33892.5</text>
<text transform="translate(1621 616) scale(0.92 1)" font-size="10" fill="#000" stroke="#000" stroke-width="0.25">118.17</text>
<text transform="translate(1621 663) scale(0.92 1)" font-size="10" fill="#000" stroke="#000" stroke-width="0.25">0.00</text>
<text transform="translate(1621 705) scale(0.92 1)" font-size="10" fill="#000" stroke="#000" stroke-width="0.25">-110.73</text>
<text transform="translate(1621 721) scale(0.92 1)" font-size="10" fill="#000" stroke="#000" stroke-width="0.25">100</text>
<text transform="translate(1621 735) scale(0.92 1)" font-size="10" fill="#000" stroke="#000" stroke-width="0.25">80</text>
<text transform="translate(1621 764) scale(0.92 1)" font-size="10" fill="#000" stroke="#000" stroke-width="0.25">50</text>
<text transform="translate(1621 798) scale(0.92 1)" font-size="10" fill="#000" stroke="#000" stroke-width="0.25">15</text>
<text transform="translate(1621 806) scale(0.92 1)" font-size="10" fill="#000" stroke="#000" stroke-width="0.25">0</text>
<path d="M8 31h7l-3.5 4z" fill="#000"/>
<text transform="translate(20 36.2) scale(0.92 1)" font-size="10" fill="#000" stroke="#000" stroke-width="0.25" xml:space="preserve" textLength="202.5" lengthAdjust="spacing">DJ30-,H4  33865.5 33920.5 33804.5 33892.5</text>
<text transform="translate(9 618) scale(0.92 1)" font-size="10" fill="#000" stroke="#000" stroke-width="0.25" textLength="134.8" lengthAdjust="spacing">MACD(12,26,9) -56.56 -28.43</text>
<text transform="translate(9 723) scale(0.92 1)" font-size="10" fill="#000" stroke="#000" stroke-width="0.25" textLength="74.5" lengthAdjust="spacing">RSI(14) 48.9726</text>
<path d="M1385.5 25h10.5l-5.25 5.5z" fill="#000"/>
<g shape-rendering="crispEdges">
<rect x="4" y="659" width="3" height="7" fill="#00ff00"/>
<rect x="20" y="659" width="3" height="4" fill="#00ff00"/>
<rect x="36" y="656" width="3" height="3" fill="#00ff00"/>
<rect x="52" y="647" width="3" height="12" fill="#00ff00"/>
<rect x="68" y="645" width="3" height="14" fill="#00ff00"/>
<rect x="84" y="642" width="3" height="17" fill="#00ff00"/>
<rect x="100" y="640" width="3" height="19" fill="#00ff00"/>
<rect x="116" y="644" width="3" height="15" fill="#00ff00"/>
<rect x="132" y="652" width="3" height="7" fill="#00ff00"/>
<rect x="148" y="649" width="3" height="10" fill="#00ff00"/>
<rect x="164" y="643" width="3" height="16" fill="#00ff00"/>
<rect x="180" y="639" width="3" height="20" fill="#00ff00"/>
<rect x="196" y="636" width="3" height="23" fill="#00ff00"/>
<rect x="212" y="635" width="3" height="24" fill="#00ff00"/>
<rect x="228" y="638" width="3" height="21" fill="#00ff00"/>
<rect x="244" y="632" width="3" height="27" fill="#00ff00"/>
<rect x="260" y="627" width="3" height="32" fill="#00ff00"/>
<rect x="276" y="623" width="3" height="36" fill="#00ff00"/>
<rect x="292" y="621" width="3" height="38" fill="#00ff00"/>
<rect x="308" y="619" width="3" height="40" fill="#00ff00"/>
<rect x="324" y="619" width="3" height="40" fill="#00ff00"/>
<rect x="340" y="612" width="3" height="47" fill="#00ff00"/>
<rect x="356" y="611" width="3" height="48" fill="#00ff00"/>
<rect x="372" y="613" width="3" height="46" fill="#00ff00"/>
<rect x="388" y="616" width="3" height="43" fill="#00ff00"/>
<rect x="404" y="621" width="3" height="38" fill="#00ff00"/>
<rect x="420" y="629" width="3" height="30" fill="#00ff00"/>
<rect x="436" y="628" width="3" height="31" fill="#00ff00"/>
<rect x="452" y="635" width="3" height="24" fill="#00ff00"/>
<rect x="468" y="639" width="3" height="20" fill="#00ff00"/>
<rect x="484" y="647" width="3" height="12" fill="#00ff00"/>
<rect x="500" y="649" width="3" height="10" fill="#00ff00"/>
<rect x="516" y="658" width="3" height="1" fill="#00ff00"/>
<rect x="532" y="658" width="3" height="1" fill="#00ff00"/>
<rect x="548" y="653" width="3" height="6" fill="#00ff00"/>
<rect x="564" y="645" width="3" height="14" fill="#00ff00"/>
<rect x="580" y="640" width="3" height="19" fill="#00ff00"/>
<rect x="596" y="636" width="3" height="23" fill="#00ff00"/>
<rect x="612" y="635" width="3" height="24" fill="#00ff00"/>
<rect x="628" y="643" width="3" height="16" fill="#00ff00"/>
<rect x="644" y="638" width="3" height="21" fill="#00ff00"/>
<rect x="660" y="633" width="3" height="26" fill="#00ff00"/>
<rect x="676" y="632" width="3" height="27" fill="#00ff00"/>
<rect x="692" y="631" width="3" height="28" fill="#00ff00"/>
<rect x="708" y="633" width="3" height="26" fill="#00ff00"/>
<rect x="724" y="632" width="3" height="27" fill="#00ff00"/>
<rect x="740" y="639" width="3" height="20" fill="#00ff00"/>
<rect x="756" y="639" width="3" height="20" fill="#00ff00"/>
<rect x="772" y="638" width="3" height="21" fill="#00ff00"/>
<rect x="788" y="638" width="3" height="21" fill="#00ff00"/>
<rect x="804" y="641" width="3" height="18" fill="#00ff00"/>
<rect x="820" y="639" width="3" height="20" fill="#00ff00"/>
<rect x="836" y="645" width="3" height="14" fill="#00ff00"/>
<rect x="852" y="648" width="3" height="11" fill="#00ff00"/>
<rect x="868" y="652" width="3" height="7" fill="#00ff00"/>
<rect x="884" y="657" width="3" height="2" fill="#00ff00"/>
<rect x="900" y="659" width="3" height="2" fill="#00ff00"/>
<rect x="916" y="659" width="3" height="10" fill="#00ff00"/>
<rect x="932" y="659" width="3" height="10" fill="#00ff00"/>
<rect x="948" y="659" width="3" height="10" fill="#00ff00"/>
<rect x="964" y="659" width="3" height="7" fill="#00ff00"/>
<rect x="980" y="659" width="3" height="5" fill="#00ff00"/>
<rect x="996" y="659" width="3" height="4" fill="#00ff00"/>
<rect x="1012" y="659" width="3" height="7" fill="#00ff00"/>
<rect x="1028" y="659" width="3" height="12" fill="#00ff00"/>
<rect x="1044" y="659" width="3" height="5" fill="#00ff00"/>
<rect x="1060" y="655" width="3" height="4" fill="#00ff00"/>
<rect x="1076" y="647" width="3" height="12" fill="#00ff00"/>
<rect x="1092" y="642" width="3" height="17" fill="#00ff00"/>
<rect x="1108" y="641" width="3" height="18" fill="#00ff00"/>
<rect x="1124" y="639" width="3" height="20" fill="#00ff00"/>
<rect x="1140" y="642" width="3" height="17" fill="#00ff00"/>
<rect x="1156" y="644" width="3" height="15" fill="#00ff00"/>
<rect x="1172" y="644" width="3" height="15" fill="#00ff00"/>
<rect x="1188" y="642" width="3" height="17" fill="#00ff00"/>
<rect x="1204" y="638" width="3" height="21" fill="#00ff00"/>
<rect x="1220" y="635" width="3" height="24" fill="#00ff00"/>
<rect x="1236" y="648" width="3" height="11" fill="#00ff00"/>
<rect x="1252" y="659" width="3" height="2" fill="#00ff00"/>
<rect x="1268" y="659" width="3" height="13" fill="#00ff00"/>
<rect x="1284" y="659" width="3" height="20" fill="#00ff00"/>
<rect x="1300" y="659" width="3" height="30" fill="#00ff00"/>
<rect x="1316" y="659" width="3" height="32" fill="#00ff00"/>
<rect x="1332" y="659" width="3" height="29" fill="#00ff00"/>
<rect x="1348" y="659" width="3" height="26" fill="#00ff00"/>
</g>
<polyline points="5.5,703.2 21.5,694.8 37.5,686.4 53.5,677.2 69.5,668.3 85.5,662.7 101.5,657.2 117.5,653.0 133.5,651.3 149.5,649.6 165.5,647.4 181.5,645.2 197.5,643.5 213.5,642.4 229.5,642.1 245.5,641.8 261.5,639.6 277.5,636.3 293.5,633.5 309.5,630.1 325.5,627.9 341.5,625.1 357.5,622.0 373.5,620.1 389.5,618.1 405.5,618.1 421.5,618.4 437.5,619.5 453.5,620.4 469.5,623.4 485.5,627.3 501.5,631.2 517.5,636.3 533.5,641.8 549.5,644.6 565.5,646.3 581.5,646.6 597.5,646.6 613.5,646.6 629.5,646.6 645.5,645.7 661.5,642.4 677.5,639.3 693.5,637.4 709.5,636.3 725.5,634.9 741.5,635.7 757.5,635.7 773.5,635.4 789.5,635.4 805.5,636.3 821.5,637.4 837.5,637.6 853.5,640.2 869.5,642.4 885.5,644.1 901.5,646.8 917.5,650.2 933.5,653.3 949.5,656.3 965.5,659.4 981.5,662.5 997.5,663.6 1013.5,665.5 1029.5,665.8 1045.5,665.8 1061.5,665.5 1077.5,663.6 1093.5,660.5 1109.5,657.4 1125.5,654.4 1141.5,652.1 1157.5,649.4 1173.5,646.6 1189.5,644.6 1205.5,642.4 1221.5,641.5 1237.5,641.5 1253.5,644.1 1269.5,646.8 1285.5,650.8 1301.5,655.8 1317.5,661.3 1333.5,666.4 1349.5,671.1" fill="none" stroke="#ff0000" stroke-width="2" stroke-linejoin="round" shape-rendering="crispEdges"/>
<g shape-rendering="crispEdges" stroke="#000" stroke-width="1" stroke-dasharray="3 3">
<line x1="6" x2="1617" y1="731.5" y2="731.5"/>
<line x1="6" x2="1617" y1="760.5" y2="760.5"/>
<line x1="6" x2="1617" y1="794.5" y2="794.5"/>
</g>
<polyline points="5.5,755.6 21.5,757.0 37.5,753.1 53.5,749.7 69.5,754.8 85.5,754.8 101.5,754.8 117.5,760.3 133.5,768.2 149.5,755.0 165.5,753.9 181.5,753.9 197.5,753.9 213.5,755.0 229.5,759.5 245.5,751.1 261.5,750.6 277.5,750.0 293.5,750.0 309.5,750.0 325.5,752.3 341.5,744.5 357.5,751.4 373.5,754.2 389.5,755.3 405.5,757.8 421.5,762.0 437.5,754.5 453.5,760.6 469.5,761.2 485.5,764.0 501.5,761.5 517.5,768.2 533.5,760.3 549.5,755.3 565.5,752.8 581.5,752.8 597.5,752.8 613.5,756.2 629.5,764.0 645.5,753.9 661.5,753.9 677.5,754.8 693.5,755.3 709.5,757.0 725.5,755.6 741.5,761.7 757.5,758.1 773.5,755.9 789.5,757.0 805.5,759.0 821.5,755.9 837.5,762.9 853.5,761.7 869.5,762.3 885.5,764.5 901.5,765.1 917.5,768.2 933.5,763.7 949.5,760.3 965.5,759.0 981.5,759.0 997.5,761.2 1013.5,762.0 1029.5,768.2 1045.5,753.9 1061.5,752.0 1077.5,750.6 1093.5,752.0 1109.5,754.2 1125.5,754.8 1141.5,759.0 1157.5,759.0 1173.5,757.6 1189.5,755.3 1205.5,751.1 1221.5,750.9 1237.5,769.3 1253.5,772.9 1269.5,772.9 1285.5,771.8 1301.5,775.4 1317.5,767.3 1333.5,761.7 1349.5,761.5" fill="none" stroke="#1e90ff" stroke-width="2" stroke-linejoin="round" shape-rendering="crispEdges"/>
<g shape-rendering="crispEdges">
<rect x="5" y="810" width="1" height="3" fill="#000"/>
<rect x="69" y="810" width="1" height="3" fill="#000"/>
<rect x="133" y="810" width="1" height="3" fill="#000"/>
<rect x="197" y="810" width="1" height="3" fill="#000"/>
<rect x="261" y="810" width="1" height="3" fill="#000"/>
<rect x="325" y="810" width="1" height="3" fill="#000"/>
<rect x="389" y="810" width="1" height="3" fill="#000"/>
<rect x="453" y="810" width="1" height="3" fill="#000"/>
<rect x="517" y="810" width="1" height="3" fill="#000"/>
<rect x="581" y="810" width="1" height="3" fill="#000"/>
<rect x="645" y="810" width="1" height="3" fill="#000"/>
<rect x="709" y="810" width="1" height="3" fill="#000"/>
<rect x="773" y="810" width="1" height="3" fill="#000"/>
<rect x="837" y="810" width="1" height="3" fill="#000"/>
<rect x="901" y="810" width="1" height="3" fill="#000"/>
<rect x="965" y="810" width="1" height="3" fill="#000"/>
<rect x="1029" y="810" width="1" height="3" fill="#000"/>
<rect x="1093" y="810" width="1" height="3" fill="#000"/>
<rect x="1157" y="810" width="1" height="3" fill="#000"/>
<rect x="1221" y="810" width="1" height="3" fill="#000"/>
<rect x="1285" y="810" width="1" height="3" fill="#000"/>
<rect x="1349" y="810" width="1" height="3" fill="#000"/>
</g>
<text transform="translate(3.8 821.9) scale(0.92 1)" font-size="10" fill="#000" stroke="#000" stroke-width="0.25">24 Jan 2023</text>
<text transform="translate(67.8 821.9) scale(0.92 1)" font-size="10" fill="#000" stroke="#000" stroke-width="0.25">24 Jan 20:00</text>
<text transform="translate(131.8 821.9) scale(0.92 1)" font-size="10" fill="#000" stroke="#000" stroke-width="0.25">25 Jan 12:00</text>
<text transform="translate(195.8 821.9) scale(0.92 1)" font-size="10" fill="#000" stroke="#000" stroke-width="0.25">26 Jan 04:00</text>
<text transform="translate(259.8 821.9) scale(0.92 1)" font-size="10" fill="#000" stroke="#000" stroke-width="0.25">26 Jan 20:00</text>
<text transform="translate(323.8 821.9) scale(0.92 1)" font-size="10" fill="#000" stroke="#000" stroke-width="0.25">27 Jan 12:00</text>
<text transform="translate(387.8 821.9) scale(0.92 1)" font-size="10" fill="#000" stroke="#000" stroke-width="0.25">30 Jan 00:00</text>
<text transform="translate(451.8 821.9) scale(0.92 1)" font-size="10" fill="#000" stroke="#000" stroke-width="0.25">30 Jan 16:00</text>
<text transform="translate(515.8 821.9) scale(0.92 1)" font-size="10" fill="#000" stroke="#000" stroke-width="0.25">31 Jan 08:00</text>
<text transform="translate(579.8 821.9) scale(0.92 1)" font-size="10" fill="#000" stroke="#000" stroke-width="0.25">1 Feb 00:00</text>
<text transform="translate(643.8 821.9) scale(0.92 1)" font-size="10" fill="#000" stroke="#000" stroke-width="0.25">1 Feb 16:00</text>
<text transform="translate(707.8 821.9) scale(0.92 1)" font-size="10" fill="#000" stroke="#000" stroke-width="0.25">2 Feb 08:00</text>
<text transform="translate(771.8 821.9) scale(0.92 1)" font-size="10" fill="#000" stroke="#000" stroke-width="0.25">3 Feb 00:00</text>
<text transform="translate(835.8 821.9) scale(0.92 1)" font-size="10" fill="#000" stroke="#000" stroke-width="0.25">3 Feb 16:00</text>
<text transform="translate(899.8 821.9) scale(0.92 1)" font-size="10" fill="#000" stroke="#000" stroke-width="0.25">6 Feb 04:00</text>
<text transform="translate(963.8 821.9) scale(0.92 1)" font-size="10" fill="#000" stroke="#000" stroke-width="0.25">6 Feb 20:00</text>
<text transform="translate(1027.8 821.9) scale(0.92 1)" font-size="10" fill="#000" stroke="#000" stroke-width="0.25">7 Feb 12:00</text>
<text transform="translate(1091.8 821.9) scale(0.92 1)" font-size="10" fill="#000" stroke="#000" stroke-width="0.25">8 Feb 04:00</text>
<text transform="translate(1155.8 821.9) scale(0.92 1)" font-size="10" fill="#000" stroke="#000" stroke-width="0.25">8 Feb 20:00</text>
<text transform="translate(1219.8 821.9) scale(0.92 1)" font-size="10" fill="#000" stroke="#000" stroke-width="0.25">9 Feb 12:00</text>
<text transform="translate(1283.8 821.9) scale(0.92 1)" font-size="10" fill="#000" stroke="#000" stroke-width="0.25">10 Feb 04:00</text>
<text transform="translate(1347.8 821.9) scale(0.92 1)" font-size="10" fill="#000" stroke="#000" stroke-width="0.25">10 Feb 20:00</text>
<g><line x1="1345.6" y1="487.4" x2="1420" y2="376" stroke="#ed1c24" stroke-width="3"/><path d="M1429.4 361.9L1412.3 371.3L1427.7 380.4Z" fill="#ed1c24"/></g>
</svg></body></html>
